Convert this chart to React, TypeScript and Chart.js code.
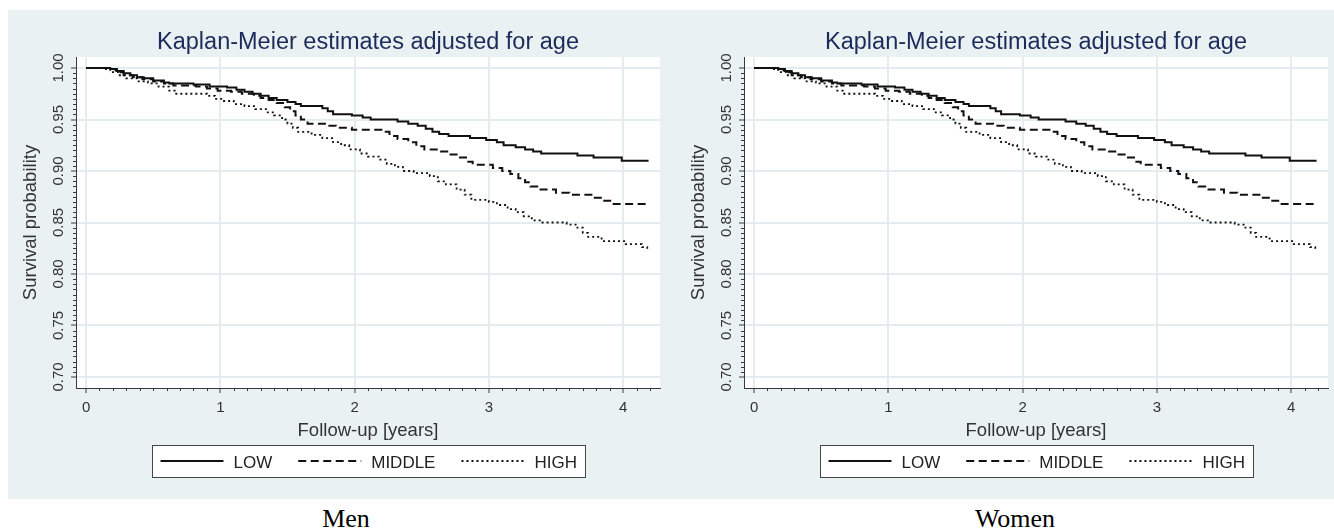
import React, { useEffect, useRef } from "react";
import { Chart, registerables } from "chart.js";

Chart.register(...registerables);

// ---------- data ----------
const lowTimes = [0.0, 0.18, 0.23, 0.28, 0.33, 0.38, 0.43, 0.5, 0.58, 0.62, 0.8, 0.92, 1.05, 1.12, 1.18, 1.24, 1.3, 1.36, 1.42, 1.5, 1.56, 1.6, 1.76, 1.8, 1.84, 1.98, 2.06, 2.12, 2.32, 2.4, 2.47, 2.53, 2.58, 2.63, 2.7, 2.86, 2.98, 3.06, 3.11, 3.2, 3.27, 3.33, 3.39, 3.66, 3.78, 3.99, 4.19];
const lowSurv = [1.0, 0.999, 0.997, 0.995, 0.993, 0.991, 0.99, 0.988, 0.986, 0.985, 0.984, 0.982, 0.981, 0.979, 0.977, 0.975, 0.973, 0.971, 0.969, 0.967, 0.965, 0.963, 0.961, 0.958, 0.955, 0.954, 0.952, 0.95, 0.948, 0.946, 0.944, 0.941, 0.938, 0.936, 0.934, 0.932, 0.93, 0.928, 0.925, 0.923, 0.921, 0.919, 0.917, 0.915, 0.913, 0.91, 0.91];

const middleTimes = [0.0, 0.15, 0.22, 0.28, 0.35, 0.42, 0.5, 0.58, 0.65, 0.82, 0.9, 0.98, 1.08, 1.16, 1.25, 1.3, 1.36, 1.42, 1.48, 1.52, 1.56, 1.6, 1.65, 1.78, 1.86, 1.98, 2.2, 2.26, 2.32, 2.4, 2.46, 2.52, 2.63, 2.69, 2.76, 2.83, 2.88, 3.03, 3.1, 3.16, 3.22, 3.27, 3.31, 3.36, 3.5, 3.6, 3.78, 3.86, 3.92, 4.18];
const middleSurv = [1.0, 0.999, 0.996, 0.993, 0.991, 0.989, 0.987, 0.985, 0.983, 0.982, 0.98, 0.978, 0.977, 0.975, 0.973, 0.971, 0.969, 0.966, 0.962, 0.958, 0.954, 0.95, 0.946, 0.944, 0.942, 0.94, 0.938, 0.934, 0.931, 0.928, 0.924, 0.921, 0.919, 0.916, 0.913, 0.909, 0.906, 0.903, 0.9, 0.897, 0.893, 0.889, 0.885, 0.882, 0.879, 0.877, 0.874, 0.871, 0.868, 0.868];

const highTimes = [0.0, 0.12, 0.18, 0.24, 0.3, 0.38, 0.46, 0.54, 0.62, 0.66, 0.9, 0.96, 1.02, 1.1, 1.18, 1.26, 1.34, 1.4, 1.46, 1.5, 1.54, 1.58, 1.68, 1.76, 1.84, 1.9, 1.96, 2.04, 2.1, 2.18, 2.24, 2.3, 2.36, 2.44, 2.56, 2.62, 2.68, 2.76, 2.82, 2.87, 3.0, 3.06, 3.14, 3.2, 3.26, 3.32, 3.38, 3.58, 3.66, 3.7, 3.74, 3.84, 4.02, 4.14, 4.18];
const highSurv = [1.0, 0.999, 0.996, 0.993, 0.99, 0.987, 0.985, 0.982, 0.978, 0.975, 0.973, 0.97, 0.968, 0.965, 0.963, 0.96, 0.957, 0.954, 0.95, 0.946, 0.942, 0.938, 0.935, 0.932, 0.928, 0.925, 0.921, 0.917, 0.914, 0.911, 0.907, 0.904, 0.9, 0.898, 0.895, 0.89, 0.887, 0.882, 0.877, 0.872, 0.87, 0.867, 0.863, 0.86, 0.856, 0.852, 0.85, 0.848, 0.845, 0.84, 0.836, 0.832, 0.829, 0.826, 0.822];

const seriesLabels = ["LOW", "MIDDLE", "HIGH"];
const xTickValues = [0, 1, 2, 3, 4];
const yTickValues = [0.7, 0.75, 0.8, 0.85, 0.9, 0.95, 1.0];
const chartTitle = "Kaplan-Meier estimates adjusted for age";
const xTitle = "Follow-up [years]";
const yTitle = "Survival probability";
const panelCaptions = ["Men", "Women"];

// ---------- styles ----------
const FONT = "'Liberation Sans', Arial, Helvetica, sans-serif";
const BG = "#e9f1f3";
const GRID = "#e4ecef";
const AXIS = "#3a3a3a";
const TEXT = "#333333";
const TITLE_COLOR = "#1c2b5a";
const INK = "#111111";
const seriesStyles = [
  { dash: [] as number[], width: 2 },
  { dash: [8, 4.5], width: 2 },
  { dash: [2, 3], width: 1.8 },
];
const X_MIN = -0.075;
const X_MAX = 4.275;
const Y_MIN = 0.6893;
const Y_MAX = 1.0107;
const X_MINOR_STEP = 0.1;
const X_MINOR_END = 4.2;
const Y_MINOR_STEP = 0.005;

Chart.defaults.font.family = FONT;

const decorPlugin = {
  id: "decor",
  beforeDraw(chart: any) {
    const { ctx, chartArea: a } = chart;
    ctx.save();
    ctx.fillStyle = "#ffffff";
    ctx.fillRect(a.left, a.top, a.right - a.left, a.bottom - a.top);
    ctx.restore();
  },
  afterDraw(chart: any) {
    const { ctx, chartArea: a, scales } = chart;
    const xs = scales.x;
    const ys = scales.y;
    ctx.save();
    // minor ticks
    ctx.strokeStyle = AXIS;
    ctx.lineWidth = 1;
    ctx.beginPath();
    const nx = Math.round(X_MINOR_END / X_MINOR_STEP);
    for (let i = 1; i <= nx; i++) {
      if (i % 10 === 0) continue;
      const px = Math.round(xs.getPixelForValue(i * X_MINOR_STEP)) + 0.5;
      ctx.moveTo(px, a.bottom);
      ctx.lineTo(px, a.bottom + 3);
    }
    const y0 = Math.round(yTickValues[0] / Y_MINOR_STEP);
    const y1 = Math.round(yTickValues[yTickValues.length - 1] / Y_MINOR_STEP);
    for (let i = y0; i <= y1; i++) {
      if (i % 10 === 0) continue;
      const py = Math.round(ys.getPixelForValue(i * Y_MINOR_STEP)) + 0.5;
      ctx.moveTo(a.left, py);
      ctx.lineTo(a.left - 3, py);
    }
    ctx.stroke();

    // rotated y tick labels
    ctx.font = `15px ${FONT}`;
    ctx.fillStyle = TEXT;
    ctx.textAlign = "center";
    ctx.textBaseline = "alphabetic";
    yTickValues.forEach((v) => {
      const py = ys.getPixelForValue(v);
      ctx.save();
      ctx.translate(a.left - 12.7, py);
      ctx.rotate(-Math.PI / 2);
      ctx.fillText(v.toFixed(2), 0, 0);
      ctx.restore();
    });

    // framed legend
    ctx.font = `17px ${FONT}`;
    const LINE = 63, GAP = 10, SEP = 26, PADX = 8, BOXH = 32;
    const items = chart.data.datasets.map((ds: any) => ({ ds, w: ctx.measureText(ds.label).width }));
    const content = items.reduce((s: number, it: any) => s + LINE + GAP + it.w, 0) + SEP * (items.length - 1);
    const boxW = Math.round(content + 2 * PADX + 1);
    const cx = (a.left + a.right) / 2;
    const boxL = Math.round(cx - boxW / 2) + 0.5;
    const boxT = Math.round(a.bottom + 57) + 0.5;
    ctx.fillStyle = "#ffffff";
    ctx.fillRect(boxL, boxT, boxW, BOXH);
    ctx.strokeStyle = "#444444";
    ctx.lineWidth = 1;
    ctx.setLineDash([]);
    ctx.strokeRect(boxL, boxT, boxW, BOXH);
    const cy = boxT + BOXH / 2;
    let x = boxL + PADX;
    ctx.textAlign = "left";
    items.forEach((it: any) => {
      ctx.strokeStyle = it.ds.borderColor;
      ctx.lineWidth = it.ds.borderWidth;
      ctx.setLineDash(it.ds.borderDash || []);
      ctx.beginPath();
      ctx.moveTo(x, cy - 0.5);
      ctx.lineTo(x + LINE, cy - 0.5);
      ctx.stroke();
      ctx.setLineDash([]);
      ctx.fillStyle = "#222222";
      ctx.fillText(it.ds.label, x + LINE + GAP, cy + 6);
      x += LINE + GAP + it.w + SEP;
    });
    ctx.restore();
  },
};

function Panel({ left, width, padRight }: { left: number; width: number; padRight: number }) {
  const ref = useRef<HTMLCanvasElement | null>(null);
  useEffect(() => {
    const series = [
      [lowTimes, lowSurv],
      [middleTimes, middleSurv],
      [highTimes, highSurv],
    ];
    const datasets = series.map(([t, s], i) => ({
      label: seriesLabels[i],
      data: t.map((x, j) => ({ x, y: s[j] })),
      borderColor: INK,
      borderWidth: seriesStyles[i].width,
      borderDash: seriesStyles[i].dash,
      pointRadius: 0,
      stepped: true,
      fill: false,
      tension: 0,
    }));
    const gridCommon = {
      color: GRID,
      lineWidth: 2,
      drawTicks: true,
      tickLength: 5,
      tickColor: AXIS,
      tickWidth: 1,
    };
    const chart = new Chart(ref.current as HTMLCanvasElement, {
      type: "line",
      data: { datasets: datasets as any },
      options: {
        animation: false,
        responsive: false,
        events: [],
        layout: { autoPadding: false, padding: { left: 0, right: padRight, top: 0, bottom: 57 } },
        plugins: {
          legend: { display: false },
          tooltip: { enabled: false },
          title: {
            display: true,
            text: chartTitle,
            fullSize: false,
            color: TITLE_COLOR,
            font: { size: 23.5, weight: "normal" },
            padding: { top: 18, bottom: 0.8 },
          },
        },
        scales: {
          x: {
            type: "linear",
            min: X_MIN,
            max: X_MAX,
            afterBuildTicks: (s: any) => {
              s.ticks = xTickValues.map((v) => ({ value: v }));
            },
            afterFit: (s: any) => {
              s.height = 54;
            },
            ticks: {
              font: { size: 15 },
              color: TEXT,
              padding: 6,
              maxRotation: 0,
              autoSkip: false,
              callback: (v: any) => String(v),
            },
            grid: gridCommon,
            border: { display: true, color: AXIS, width: 1 },
            title: { display: true, text: xTitle, color: TEXT, font: { size: 18.5 }, padding: { top: 0, bottom: 0 } },
          },
          y: {
            type: "linear",
            min: Y_MIN,
            max: Y_MAX,
            afterBuildTicks: (s: any) => {
              s.ticks = yTickValues.map((v) => ({ value: v }));
            },
            afterFit: (s: any) => {
              s.width = 68;
            },
            ticks: { display: false },
            grid: gridCommon,
            border: { display: true, color: AXIS, width: 1 },
            title: { display: true, text: yTitle, color: TEXT, font: { size: 18.5 }, padding: { top: 12, bottom: 0 } },
          },
        },
      } as any,
      plugins: [decorPlugin],
    });
    return () => chart.destroy();
  }, [padRight]);
  return (
    <canvas
      ref={ref}
      width={width}
      height={489}
      style={{ position: "absolute", left, top: 10, width, height: 489, display: "block" }}
    />
  );
}

const captionStyle: React.CSSProperties = {
  position: "absolute",
  top: 506,
  width: 200,
  textAlign: "center",
  fontFamily: "'Liberation Serif', 'Times New Roman', serif",
  fontSize: 26,
  lineHeight: "26px",
  color: "#000",
};

export default function App() {
  return (
    <div style={{ position: "fixed", left: 0, top: 0, width: 1334, height: 531, background: "#fff", overflow: "hidden" }}>
      <div style={{ position: "absolute", left: 8, top: 10, width: 1326, height: 489, background: BG }} />
      <Panel left={8} width={668} padRight={16} />
      <Panel left={676} width={658} padRight={6} />
      <div style={{ ...captionStyle, left: 246 }}>{panelCaptions[0]}</div>
      <div style={{ ...captionStyle, left: 915 }}>{panelCaptions[1]}</div>
    </div>
  );
}
